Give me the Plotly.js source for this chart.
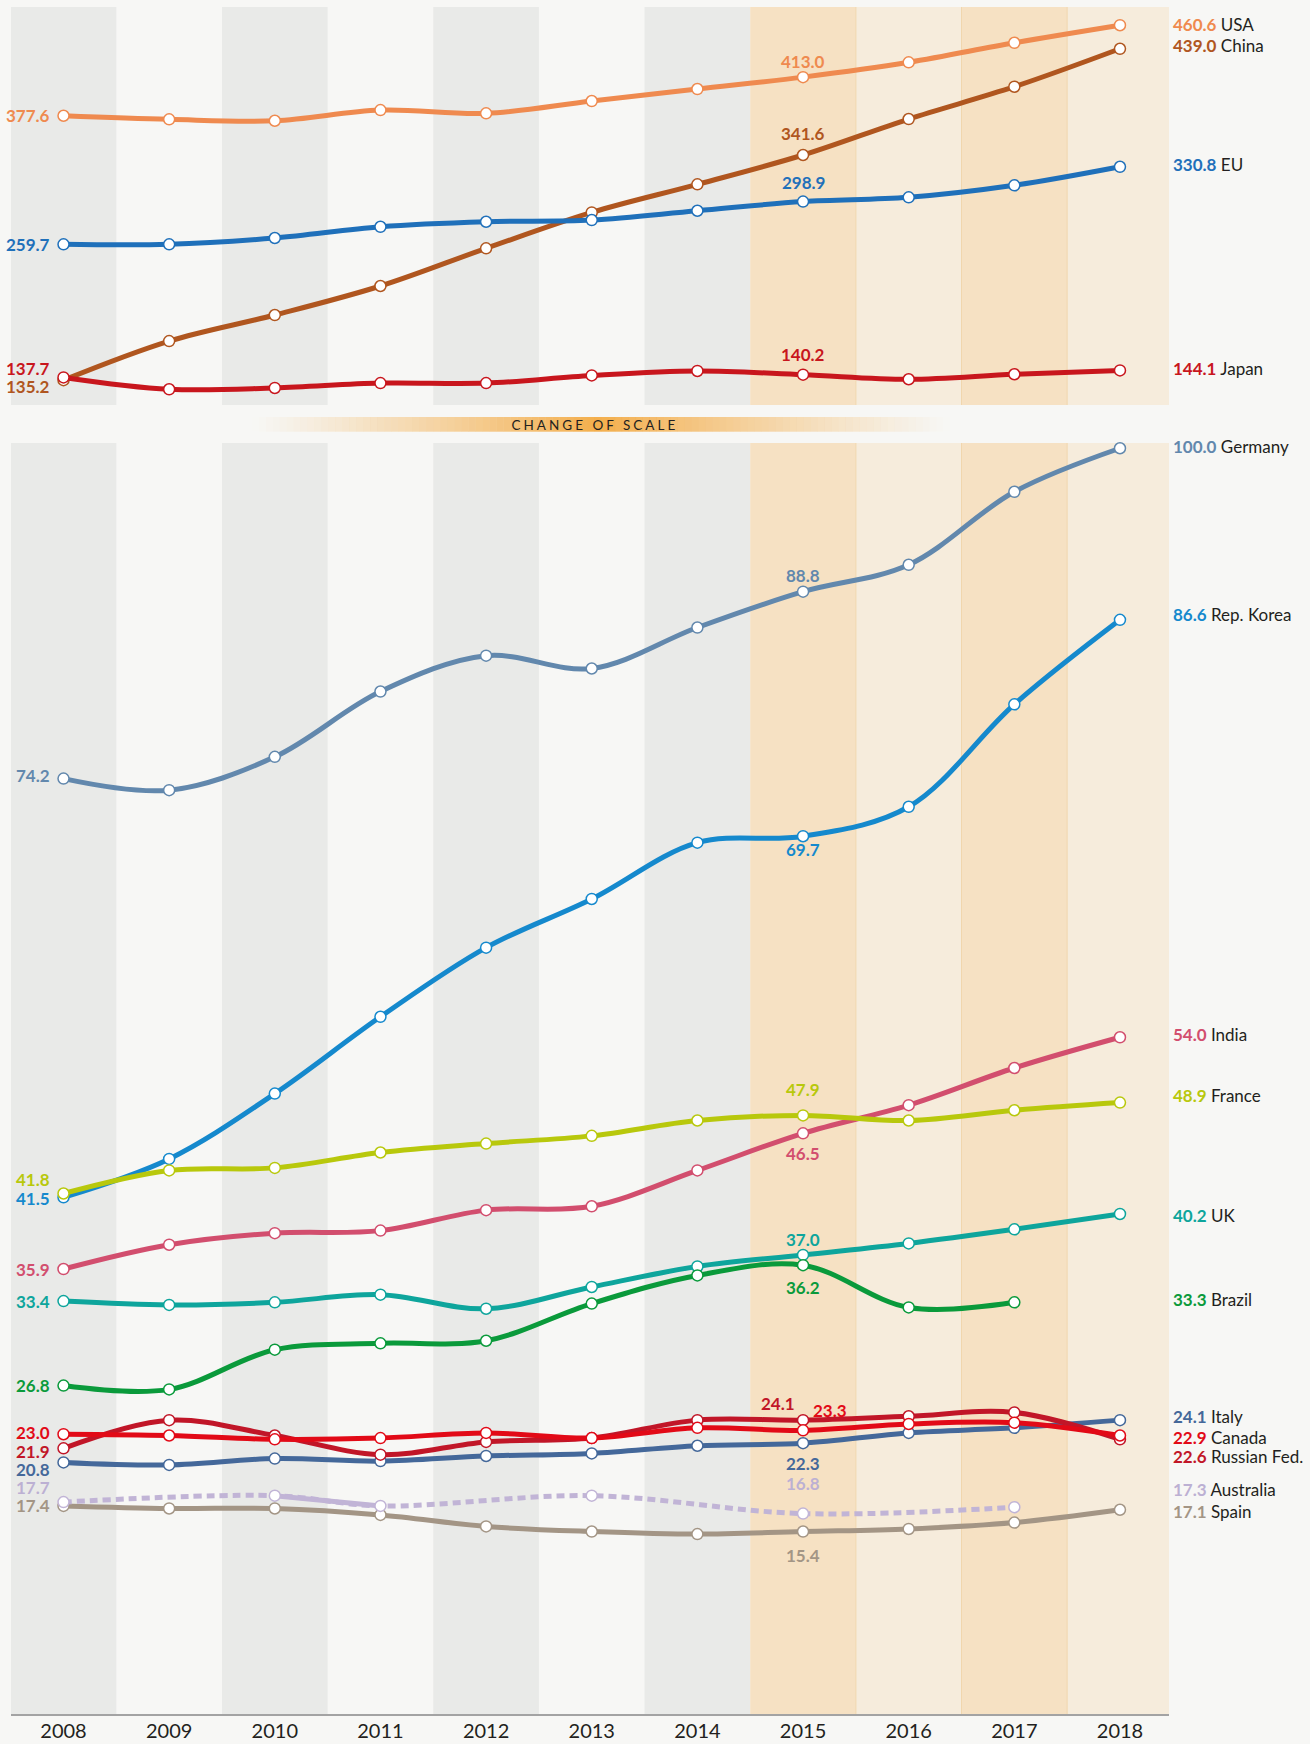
<!DOCTYPE html>
<html>
<head>
<meta charset="utf-8">
<script src="https://cdn.plot.ly/plotly-3.0.1.min.js"></script>
<style>
html,body{margin:0;padding:0;background:#f7f7f5;}
#chart{width:1310px;height:1744px;}
</style>
</head>
<body>
<div id="chart"></div>
<script>
// ---------- DATA ----------
const years = [2008, 2009, 2010, 2011, 2012, 2013, 2014, 2015, 2016, 2017, 2018];
const yearLabels = ['2008','2009','2010','2011','2012','2013','2014','2015','2016','2017','2018'];

// upper panel
const usa   = [377.6, 374.3, 373.0, 382.8, 379.8, 391.1, 402.1, 413.0, 426.6, 444.5, 460.6];
const china = [135.2, 171.0, 194.9, 221.5, 256.0, 289.0, 314.7, 341.6, 374.6, 404.2, 439.0];
const eu    = [259.7, 259.7, 265.5, 275.8, 280.4, 282.0, 290.5, 298.9, 302.8, 313.8, 330.8];
const japan = [137.7, 126.8, 128.0, 132.5, 132.5, 139.5, 143.6, 140.2, 136.0, 140.6, 144.1];

// lower panel
const germany   = [74.2, 73.3, 75.9, 81.0, 83.8, 82.8, 86.0, 88.8, 90.9, 96.6, 100.0];
const korea     = [41.5, 44.5, 49.6, 55.6, 61.0, 64.8, 69.2, 69.7, 72.0, 80.0, 86.6];
const india     = [35.9, 37.8, 38.7, 38.9, 40.5, 40.8, 43.6, 46.5, 48.7, 51.6, 54.0];
const france    = [41.8, 43.6, 43.8, 45.0, 45.7, 46.3, 47.5, 47.9, 47.5, 48.3, 48.9];
const uk        = [33.4, 33.1, 33.3, 33.9, 32.8, 34.5, 36.1, 37.0, 37.9, 39.0, 40.2];
const brazil    = [26.8, 26.5, 29.6, 30.1, 30.3, 33.2, 35.4, 36.2, 32.9, 33.3, null];
const italy     = [20.8, 20.6, 21.1, 20.9, 21.3, 21.5, 22.1, 22.3, 23.1, 23.5, 24.1];
const canada    = [23.0, 22.9, 22.6, 22.7, 23.1, 22.7, 23.5, 23.3, 23.8, 23.9, 22.9];
const russia    = [21.9, 24.1, 22.9, 21.4, 22.4, 22.7, 24.1, 24.1, 24.4, 24.7, 22.6];
const australia = [17.7, null, 18.2, 17.4, null, 18.2, null, 16.8, null, 17.3, null];
const spain     = [17.4, 17.2, 17.2, 16.7, 15.8, 15.4, 15.2, 15.4, 15.6, 16.1, 17.1];

const scaleNote = 'CHANGE OF SCALE';

// ---------- STYLE ----------
const FONT = 'Lato, "Open Sans", sans-serif';
const DARK = '#231f20';
const LW = 5;
const LBL = 17;

// yshift tweaks for labels (style only)
const topSeries = [
  {name:'China', vals:china, color:'#b0561f', left:-6.5, mid:21.6, right:3.7},
  {name:'Japan', vals:japan, color:'#c8161d', left:9,    mid:20.6, right:2},
  {name:'EU',    vals:eu,    color:'#1f70ba', left:0,    mid:18.8, right:2.7},
  {name:'USA',   vals:usa,   color:'#ef8a4f', left:0,    mid:16,   right:1}
];
const bottomSeries = [
  {name:'Spain',        vals:spain,     color:'#a39585', left:0,    mid:-23.5, right:-1.3},
  {name:'Australia',    vals:australia, color:'#c1b4d6', left:15,   mid:30.6,  right:17.2, dashed:true, text:'#bcb0d3'},
  {name:'Italy',        vals:italy,     color:'#44689a', left:-7,   mid:-20.6, right:3.4},
  {name:'Russian Fed.', vals:russia,    color:'#c11628', left:-3,   mid:17,    right:-17.4, midx:-25},
  {name:'Canada',       vals:canada,    color:'#e20a17', left:1.5,  mid:19.7,  right:-2,   midx:27},
  {name:'UK',           vals:uk,        color:'#0ea59c', left:0,    mid:15.6,  right:-2},
  {name:'Brazil',       vals:brazil,    color:'#0a9a3b', left:0,    mid:-22,   right:3},
  {name:'India',        vals:india,     color:'#d24e6e', left:0,    mid:-20,   right:3},
  {name:'Germany',      vals:germany,   color:'#6288ad', left:3,    mid:16.6,  right:1.5},
  {name:'Rep. Korea',   vals:korea,     color:'#1589cd', left:-1,   mid:-13,   right:5.5},
  {name:'France',       vals:france,    color:'#b8c80c', left:14,   mid:26,    right:7.5}
];

function trace(s, xa, ya, extra) {
  return Object.assign({
    type:'scatter', mode:'lines+markers', x:years, y:s.vals, xaxis:xa, yaxis:ya,
    name:s.name, line:{color:s.color, width:LW, shape:'spline', smoothing:1},
    marker:{size:11, color:'#ffffff', line:{color:s.color, width:1.5}},
    cliponaxis:false, hoverinfo:'skip', connectgaps:false
  }, extra || {});
}

const data = [];
topSeries.forEach(s => data.push(trace(s, 'x2', 'y')));
bottomSeries.forEach(s => {
  if (s.dashed) {
    data.push(trace(s, 'x', 'y2', {mode:'lines', connectgaps:true,
      line:{color:s.color, width:LW, shape:'spline', smoothing:1, dash:'8px,5px'}}));
    data.push(trace(s, 'x', 'y2'));
  } else {
    data.push(trace(s, 'x', 'y2'));
  }
});

// ---------- ANNOTATIONS ----------
const annotations = [];
function addLabels(list, yref) {
  list.forEach(s => {
    const tc = s.text || s.color;
    const first = s.vals[0];
    const midIdx = years.indexOf(2015);
    let lastIdx = s.vals.length - 1;
    while (s.vals[lastIdx] === null) lastIdx--;
    const last = s.vals[lastIdx];
    annotations.push({xref:'x', yref:yref, x:years[0], y:first, xanchor:'right', yanchor:'middle',
      xshift:-12, yshift:s.left, showarrow:false, text:first.toFixed(1),
      font:{family:FONT, size:LBL, color:tc, weight:700}});
    annotations.push({xref:'x', yref:yref, x:years[midIdx], y:s.vals[midIdx], xanchor:'center', yanchor:'middle',
      xshift:s.midx || 0, yshift:s.mid, showarrow:false, text:s.vals[midIdx].toFixed(1),
      font:{family:FONT, size:LBL, color:tc, weight:700}});
    annotations.push({xref:'paper', yref:yref, x:1.002, y:last, xanchor:'left', yanchor:'middle',
      yshift:s.right, showarrow:false,
      text:'<b><span style="color:' + tc + '">' + last.toFixed(1) + '</span></b> ' + s.name,
      font:{family:FONT, size:LBL, color:DARK}});
  });
}
addLabels(topSeries, 'y');
addLabels(bottomSeries, 'y2');

// ---------- GEOMETRY ----------
const H = 1744, TOP = 7, BOT = 30, PH = H - TOP - BOT;
const pyPaper = px => 1 - (px - TOP) / PH;
const pxPaper = px => (px - 11) / 1158;

const topDomain = [pyPaper(405), 1];
const botDomain = [0, pyPaper(443)];

// ---------- SHAPES ----------
const shapes = [];
years.forEach((yr, i) => {
  let fill = null;
  if (yr <= 2014) { if (i % 2 === 0) fill = '#e9eae8'; }
  else fill = (yr % 2 === 1) ? '#f6e1c3' : '#f6ecdc';
  if (!fill) return;
  const x0 = yr - 0.5, x1 = Math.min(yr + 0.5, 2018.464);
  ['y domain', 'y2 domain'].forEach(yr_ => {
    shapes.push({type:'rect', layer:'below', xref:'x', yref:yr_, x0:x0, x1:x1, y0:0, y1:1,
      fillcolor:fill, line:{width:0}});
  });
});
[2015.5, 2016.5, 2017.5].forEach(b => {
  ['y domain', 'y2 domain'].forEach(yr_ => {
    shapes.push({type:'line', layer:'below', xref:'x', yref:yr_, x0:b, x1:b, y0:0, y1:1,
      line:{color:'#f1d6ad', width:1}});
  });
});
// gradient band ("change of scale")
(function () {
  const gx0 = pxPaper(252), gx1 = pxPaper(950), gc = pxPaper(597);
  const gy0 = pyPaper(431.7), gy1 = pyPaper(417);
  const N = 100, w = (gx1 - gx0) / N;
  for (let i = 0; i < N; i++) {
    const a0 = gx0 + i * w, m = a0 + w / 2;
    const d = m < gc ? (gc - m) / (gc - gx0) : (m - gc) / (gx1 - gc);
    const a = 0.92 * Math.pow(Math.max(0, 1 - d), 1.15);
    shapes.push({type:'rect', layer:'below', xref:'paper', yref:'paper', x0:a0, x1:a0 + w * 1.02,
      y0:gy0, y1:gy1, fillcolor:'rgba(243,168,62,' + a.toFixed(3) + ')', line:{width:0}});
  }
})();

annotations.push({xref:'paper', yref:'paper', x:pxPaper(595), y:pyPaper(424.5), xanchor:'center', yanchor:'middle',
  showarrow:false, text:scaleNote, font:{family:FONT, size:13.5, color:DARK}});

const layout = {
  width:1310, height:H,
  margin:{l:11, r:141, t:TOP, b:BOT, pad:0},
  paper_bgcolor:'#f7f7f5', plot_bgcolor:'rgba(0,0,0,0)',
  showlegend:false,
  font:{family:FONT, color:DARK},
  xaxis:{range:[2007.503, 2018.464], domain:[0,1], anchor:'y2', showgrid:false, zeroline:false,
    showline:true, linecolor:'#a3a3a3', linewidth:1.5, tickmode:'array', tickvals:years, ticktext:yearLabels,
    ticks:'', tickfont:{family:FONT, size:20, color:DARK}, ticklabelstandoff:-2, fixedrange:true},
  xaxis2:{matches:'x', anchor:'y', visible:false},
  yaxis:{domain:topDomain, range:[112.4, 477.3], visible:false, fixedrange:true},
  yaxis2:{domain:botDomain, range:[1.15, 100.41], visible:false, fixedrange:true},
  shapes:shapes,
  annotations:annotations
};

Plotly.newPlot('chart', data, layout, {staticPlot:true, displayModeBar:false}).then(gd => {
  gd.querySelectorAll('text.annotation-text').forEach(t => {
    if (t.textContent === scaleNote) t.style.letterSpacing = '3px';
  });
});
</script>
</body>
</html>
